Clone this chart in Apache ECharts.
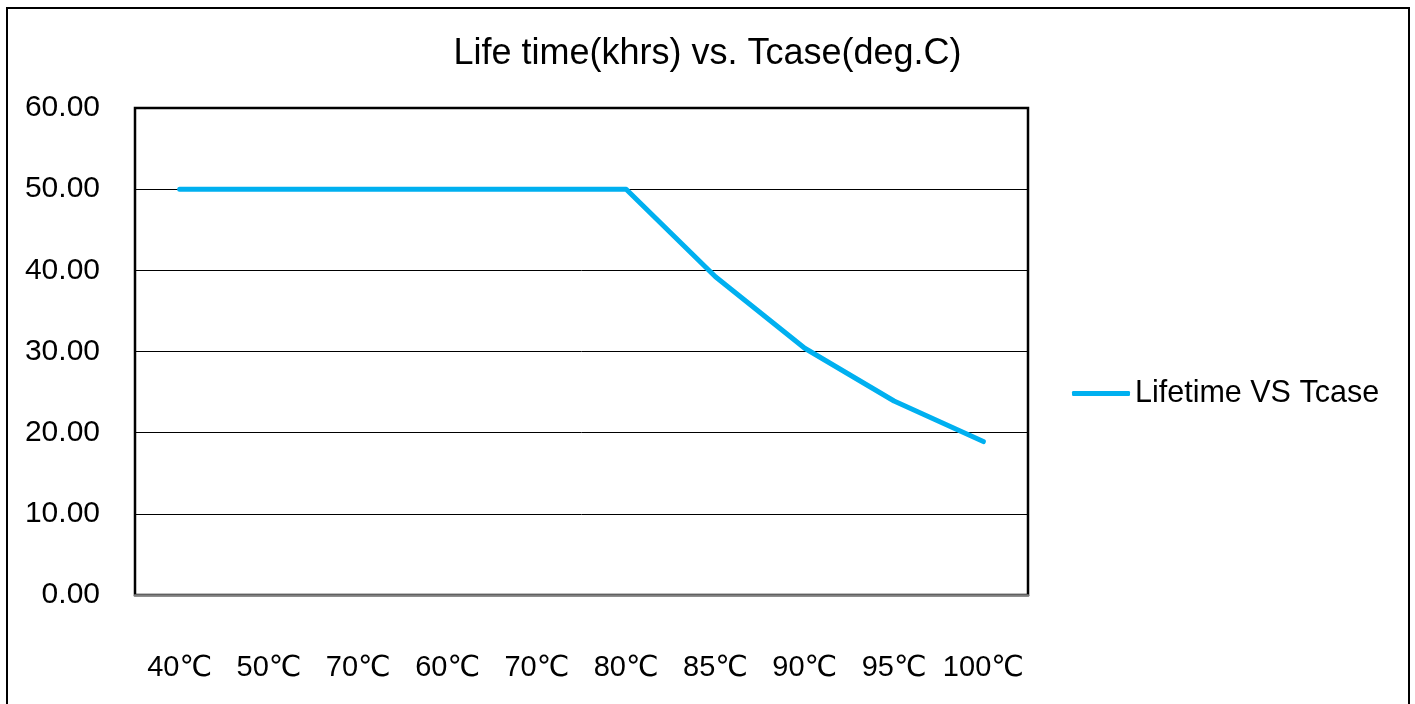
<!DOCTYPE html>
<html>
<head>
<meta charset="utf-8">
<script src="https://cdn.jsdelivr.net/npm/echarts@6/dist/echarts.min.js"></script>
<style>
html,body{margin:0;padding:0;background:#fff;}
#chart{width:1415px;height:704px;}
</style>
</head>
<body>
<div id="chart"></div>
<script>
var titleText = 'Life time(khrs) vs. Tcase(deg.C)';
var seriesName = 'Lifetime VS Tcase';
var categories = ['40℃','50℃','70℃','60℃','70℃','80℃','85℃','90℃','95℃','100℃'];
var lifetimeValues = [50, 50, 50, 50, 50, 50, 39.2, 30.4, 23.9, 18.9];
var yTicks = {min: 0, max: 60, interval: 10};

var FONT = '"Liberation Sans", Arial, "DejaVu Sans", sans-serif';
var chart = echarts.init(document.getElementById('chart'));
chart.setOption({
  animation: false,
  backgroundColor: '#ffffff',
  graphic: [{
    type: 'rect',
    shape: {x: 7, y: 8, width: 1402, height: 720},
    style: {fill: 'none', stroke: '#000', lineWidth: 2},
    silent: true
  }],
  title: {
    text: titleText,
    left: 'center',
    top: 31,
    textStyle: {fontFamily: FONT, fontSize: 36, fontWeight: 'normal', color: '#000'}
  },
  legend: {
    orient: 'vertical',
    left: 1067,
    top: 373,
    icon: 'roundRect',
    itemWidth: 58,
    itemHeight: 5,
    textStyle: {fontFamily: FONT, fontSize: 30.5, color: '#000'},
    data: [seriesName]
  },
  grid: {
    left: 135, right: 387, top: 108, bottom: 109,
    show: true,
    borderColor: '#000',
    borderWidth: 2.5,
    containLabel: false
  },
  xAxis: {
    type: 'category',
    data: categories,
    boundaryGap: true,
    axisLine: {show: true, lineStyle: {color: '#7f7f7f', width: 2.5}},
    axisTick: {show: false},
    axisLabel: {fontFamily: FONT, fontSize: 29, color: '#000', margin: 58, interval: 0}
  },
  yAxis: {
    type: 'value',
    min: yTicks.min, max: yTicks.max, interval: yTicks.interval,
    axisLine: {show: false},
    axisTick: {show: false},
    splitLine: {show: true, lineStyle: {color: '#000', width: 1}},
    axisLabel: {fontFamily: FONT, fontSize: 30, color: '#000', margin: 35,
      formatter: function (v) { return v.toFixed(2); }}
  },
  series: [{
    name: seriesName,
    type: 'line',
    data: lifetimeValues,
    symbol: 'none',
    lineStyle: {color: '#00B0F0', width: 5, cap: 'round', join: 'round'},
    itemStyle: {color: '#00B0F0'}
  }]
});
</script>
</body>
</html>
